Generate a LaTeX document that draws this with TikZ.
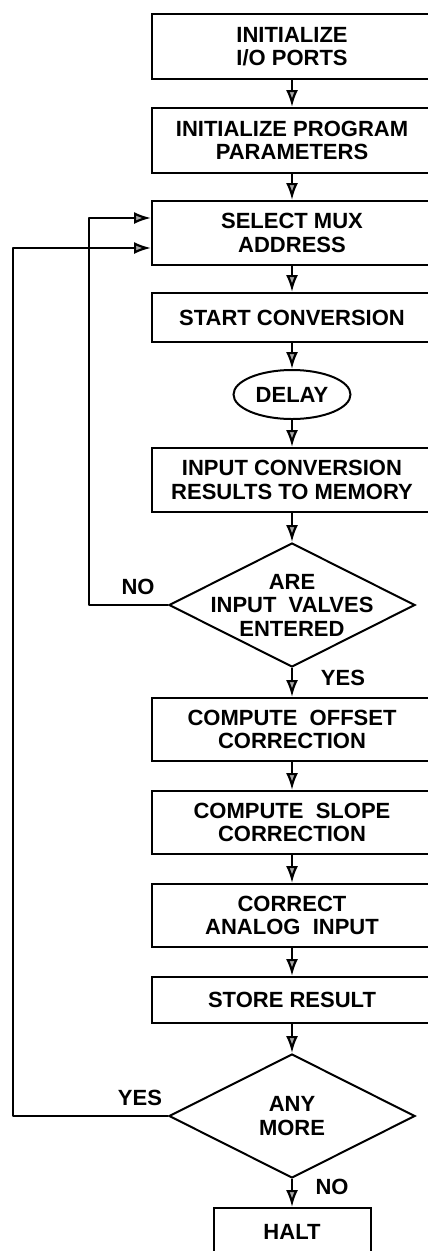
\documentclass[tikz,border=0pt]{standalone}
\usepackage{fontspec}
\setmainfont{Liberation Sans}
\usetikzlibrary{shapes.geometric,arrows.meta}

\begin{document}
\begin{tikzpicture}[x=1pt, y=1pt,
    font=\fontsize{22}{23.5}\selectfont\bfseries,
    box/.style={draw, line width=2pt, minimum width=280pt, align=center, inner sep=0pt},
    decision/.style={draw, diamond, line width=2pt, inner sep=0pt, minimum width=246pt, minimum height=124pt},
    arr/.style={line width=2.2pt, line join=round, -{Latex[length=17pt,width=12pt,fill=gray!70]}}]
    \clip (0,0) rectangle (428,-1251);

    \node [box, minimum height=65pt] (ports) at (292,-46.5) {INITIALIZE\\I/O PORTS};
    \node [box, minimum height=65pt] (params) at (292,-140.5) {INITIALIZE PROGRAM\\PARAMETERS};
    \node [box, minimum height=64pt] (mux) at (292,-233) {SELECT MUX\\ADDRESS};
    \node [box, minimum height=49pt] (start) at (292,-317.5) {START CONVERSION};
    \node [draw, ellipse, line width=2pt, minimum width=117pt, minimum height=49pt, inner sep=0pt] (delay) at (292,-394.5) {DELAY};
    \node [box, minimum height=64pt] (tomem) at (292,-480) {INPUT CONVERSION\\RESULTS TO MEMORY};
    \node [decision, label={[align=center]center:ARE\\INPUT\ \ VALVES\\ENTERED}] (entered) at (292,-605) {};
    \node [box, minimum height=63pt] (offset) at (292,-729.5) {COMPUTE\ \ OFFSET\\CORRECTION};
    \node [box, minimum height=63pt] (slope) at (292,-822.5) {COMPUTE\ \ SLOPE\\CORRECTION};
    \node [box, minimum height=63pt] (correct) at (292,-915.5) {CORRECT\\ANALOG\ \ INPUT};
    \node [box, minimum height=46pt] (result) at (292,-1000) {STORE RESULT};
    \node [decision, label={[align=center]center:ANY\\MORE}] (anymore) at (292,-1116) {};
    \node [box, minimum width=157pt, minimum height=48pt] (halt) at (292,-1232) {HALT};

    \foreach \a/\b in {ports/params, params/mux, mux/start, start/delay, delay/tomem, tomem/entered,
                       entered/offset, offset/slope, slope/correct, correct/result, result/anymore, anymore/halt}
      \draw [arr] (\a.south) -- (\b.north);

    \draw [arr] (entered.west) -- ++(-79,0) |- ([yshift=15pt]mux.west);
    \draw [arr] (anymore.west) -- ++(-155,0) |- ([yshift=-15pt]mux.west);

    \node (enteredno) at (138,-587) {NO};
    \node (enteredyes) at (343,-678) {YES};
    \node (anyyes) at (140,-1098) {YES};
    \node (anyno) at (332,-1187) {NO};
  \end{tikzpicture}
\end{document}
